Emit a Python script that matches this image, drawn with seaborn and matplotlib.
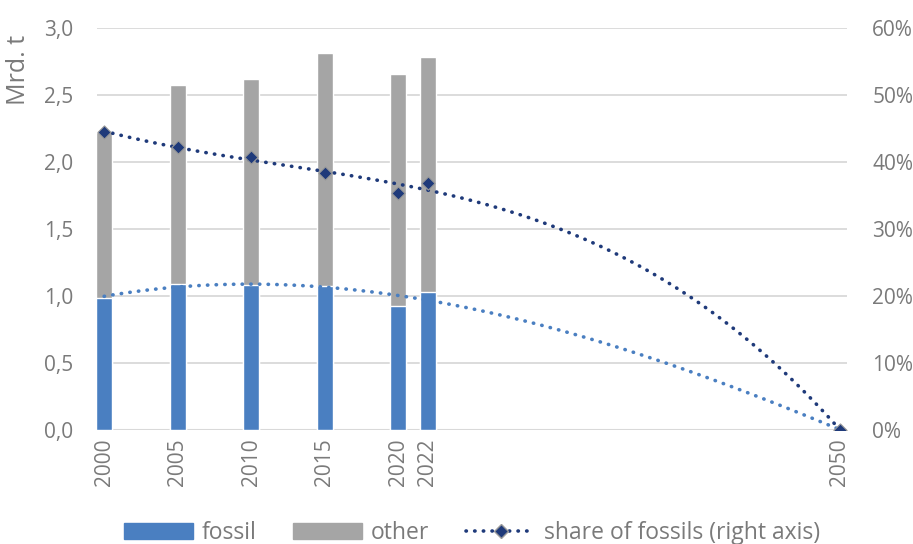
import numpy as np
import pandas as pd
import seaborn as sns
import matplotlib.pyplot as plt
from matplotlib.lines import Line2D
from matplotlib.patches import Patch
from matplotlib.ticker import FuncFormatter

# values
years = [2000, 2005, 2010, 2015, 2020, 2022]
fossil = [0.985, 1.09, 1.08, 1.075, 0.925, 1.03]
total = [2.22, 2.575, 2.62, 2.81, 2.655, 2.785]
share = [44.5, 42.2, 40.7, 38.4, 35.4, 36.9]

# 2050 target point (no fossils)
target_year = 2050
target_fossil = 0.0
target_share = 0.0

tick_years = [2000, 2005, 2010, 2015, 2020, 2022, 2050]

blue = "#4a7fc1"
gray = "#a5a5a5"
navy = "#1f3a7a"
txt = "#7a7a7a"
dotted = (0, (0.1, 2.3))

sns.set_theme(style="white")
plt.rcParams["font.family"] = ["Open Sans", "DejaVu Sans"]

df = pd.DataFrame({"year": years, "fossil": fossil, "total": total, "share": share})
trend = pd.DataFrame({"year": years + [target_year],
                      "fossil": fossil + [target_fossil],
                      "share": share + [target_share]})

fig = plt.figure(figsize=(9.13, 5.44), dpi=100)
ax = fig.add_axes([0.106, 0.21, 0.822, 0.7385])

# stacked bars: total in gray, fossil part in blue on top of it
sns.barplot(data=df, x="year", y="total", native_scale=True, width=0.54,
            color=gray, saturation=1, ax=ax, zorder=2)
sns.barplot(data=df, x="year", y="fossil", native_scale=True, width=0.54,
            color=blue, saturation=1, ax=ax, zorder=2)

# polynomial trend of fossil amount
sns.regplot(data=trend, x="year", y="fossil", order=3, ci=None, scatter=False, ax=ax,
            line_kws=dict(color=blue, lw=2.6, ls=dotted, dash_capstyle="round", zorder=3))

ax.set_ylim(0, 3.0)
ax.set_xlim(1999.5, 2050.5)
ax.set_yticks(np.arange(0, 3.01, 0.5))
ax.yaxis.set_major_formatter(FuncFormatter(lambda v, p: f"{v:.1f}".replace(".", ",")))
ax.set_xticks(tick_years)
ax.set_xticklabels([str(y) for y in tick_years], rotation=90)
ax.grid(axis="y", color="#d9d9d9", lw=1.3, zorder=0)
ax.set_axisbelow(True)
for s in ["top", "left", "right", "bottom"]:
    ax.spines[s].set_visible(False)
ax.axhline(0, color="#d9d9d9", lw=1.5, zorder=1)
ax.tick_params(axis="both", length=0, labelsize=15, colors=txt)
ax.tick_params(axis="y", pad=17)
ax.tick_params(axis="x", pad=6)
ax.set_xlabel("")
ax.set_ylabel("Mrd. t", fontsize=18, color=txt)
ax.yaxis.set_label_coords(-0.087, 0.895)

# share of fossils on the right axis
ax2 = ax.twinx()
sns.regplot(data=trend, x="year", y="share", order=3, ci=None, scatter=False, ax=ax2,
            line_kws=dict(color=navy, lw=2.6, ls=dotted, dash_capstyle="round", zorder=3))
sns.scatterplot(data=trend, x="year", y="share", marker="D", s=45, color=navy,
                edgecolor="#9a9a9a", linewidth=0.8, ax=ax2, zorder=4, legend=False)
ax2.set_ylim(0, 60)
ax2.set_yticks(range(0, 61, 10))
ax2.yaxis.set_major_formatter(FuncFormatter(lambda v, p: f"{v:.0f}%"))
for s in ["top", "left", "right", "bottom"]:
    ax2.spines[s].set_visible(False)
ax2.tick_params(axis="y", length=0, labelsize=15, colors=txt, pad=18)
ax2.set_ylabel("")
ax2.set_xlim(1999.5, 2050.5)

handles = [Patch(color=blue), Patch(color=gray),
           Line2D([], [], color=navy, lw=2.6, ls=dotted, dash_capstyle="round",
                  marker="D", markersize=7, markerfacecolor=navy, markeredgecolor="#9a9a9a")]
labels = ["fossil", "other", "share of fossils (right axis)"]
fig.legend(handles, labels, loc="lower center", bbox_to_anchor=(0.517, -0.04), ncol=3,
           frameon=False, fontsize=16.5, labelcolor=txt, handlelength=3.0, handleheight=0.7,
           columnspacing=1.6, handletextpad=0.4)

fig.savefig("out.png", dpi=100)
